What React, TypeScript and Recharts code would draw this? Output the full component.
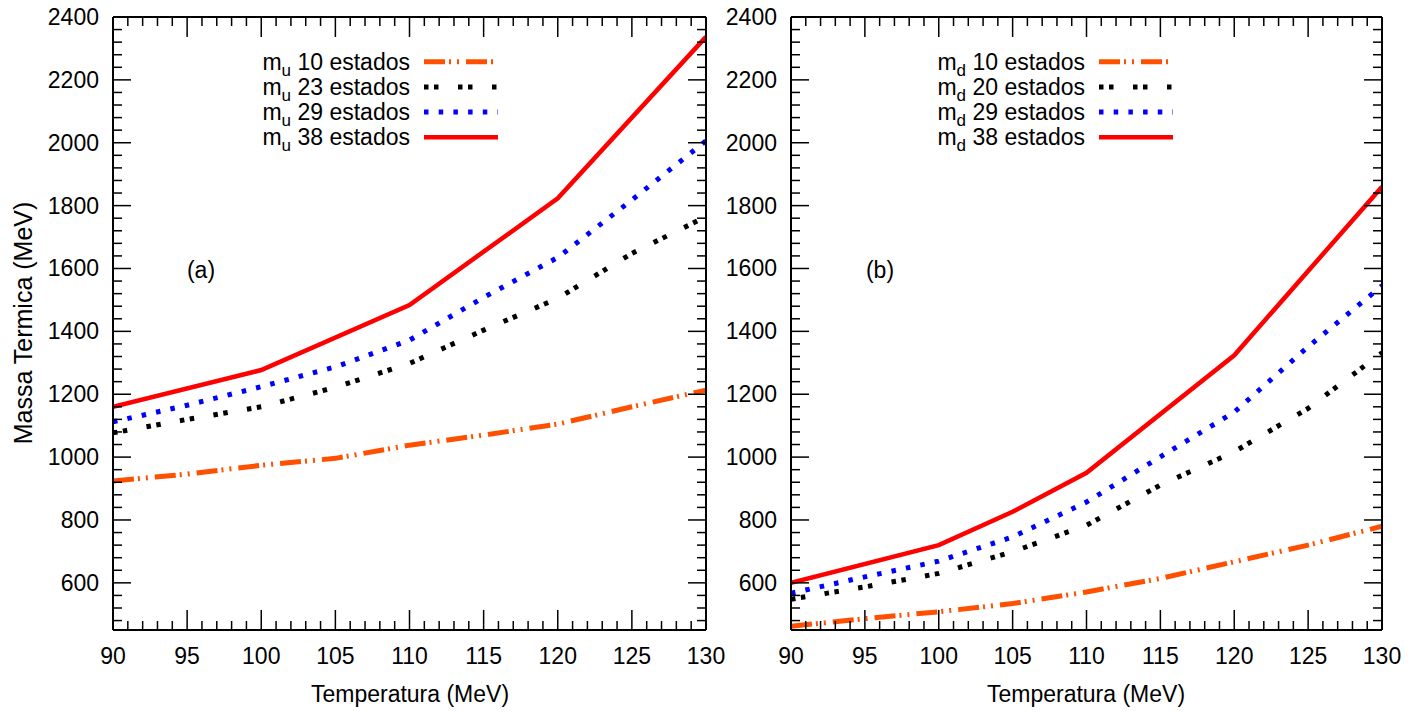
import React from 'react';
import { LineChart, Line, XAxis, YAxis, Legend } from 'recharts';

// eixo x (temperatura, MeV)
const temps = [90, 95, 100, 105, 110, 115, 120, 125, 130];
// ticks: todos os ticks (menores + maiores); os maiores recebem rótulo
const tempTicks = Array.from({ length: 41 }, (_, i) => 90 + i);
const massTicks = Array.from({ length: 49 }, (_, i) => 480 + i * 40);

// painel (a) - m_u
const mu10 = [924, 946, 974, 996, 1038, 1070, 1105, 1160, 1213];
const mu23 = [1077, 1120, 1160, 1222, 1298, 1404, 1505, 1648, 1765];
const mu29 = [1112, 1165, 1224, 1287, 1372, 1508, 1635, 1818, 2006];
const mu38Temps = [90, 100, 110, 120, 130];
const mu38 = [1160, 1277, 1484, 1823, 2337];

// painel (b) - m_d
const md10 = [462, 486, 508, 534, 571, 614, 667, 720, 780];
const md20 = [548, 587, 630, 699, 783, 911, 1017, 1155, 1332];
const md29 = [567, 619, 669, 746, 857, 1001, 1143, 1351, 1545];
const md38Temps = [90, 100, 105, 110, 120, 130];
const md38 = [600, 720, 826, 950, 1324, 1860];

const FONT = '"Liberation Sans", Arial, sans-serif';

const STYLE_10 = { stroke: '#ff5000', width: 5, dash: '21 4 2 6 2 7' };
const STYLE_2X = { stroke: '#000000', width: 5, dash: '4.5 5.5 4.5 19.5' };
const STYLE_29 = { stroke: '#0000ff', width: 5, dash: '4.5 10.2' };
const STYLE_38 = { stroke: '#ff0000', width: 4.5, dash: undefined };

type Style = { stroke: string; width: number; dash?: string };
type Series = { key: string; label: string; points: { t: number; m: number }[]; style: Style };

const toPoints = (xs: number[], ys: number[]) => xs.map((t, i) => ({ t, m: ys[i] }));

const seriesA: Series[] = [
  { key: 'mu10', label: '10 estados', points: toPoints(temps, mu10), style: STYLE_10 },
  { key: 'mu23', label: '23 estados', points: toPoints(temps, mu23), style: STYLE_2X },
  { key: 'mu29', label: '29 estados', points: toPoints(temps, mu29), style: STYLE_29 },
  { key: 'mu38', label: '38 estados', points: toPoints(mu38Temps, mu38), style: STYLE_38 },
];

const seriesB: Series[] = [
  { key: 'md10', label: '10 estados', points: toPoints(temps, md10), style: STYLE_10 },
  { key: 'md20', label: '20 estados', points: toPoints(temps, md20), style: STYLE_2X },
  { key: 'md29', label: '29 estados', points: toPoints(temps, md29), style: STYLE_29 },
  { key: 'md38', label: '38 estados', points: toPoints(md38Temps, md38), style: STYLE_38 },
];

const LegendBox = ({ series, sub }: { series: Series[]; sub: string }) => (
  <svg width={280} height={104} style={{ fontFamily: FONT, overflow: 'visible' }}>
    {series.map((s, i) => {
      const cy = 12.7 + i * 25.2;
      return (
        <g key={s.key}>
          <text x={180} y={cy + 8} textAnchor="end" fontSize={23} fill="#000">
            <tspan>m</tspan>
            <tspan fontSize={17} dy={6}>{sub}</tspan>
            <tspan dy={-6}>{' ' + s.label}</tspan>
          </text>
          <line
            x1={194}
            x2={268}
            y1={cy}
            y2={cy}
            stroke={s.style.stroke}
            strokeWidth={s.style.width}
            strokeDasharray={s.style.dash}
          />
        </g>
      );
    })}
  </svg>
);

// ticks para dentro, estilo gnuplot
const isMajorT = (v: number) => v % 5 === 0;
const isMajorM = (v: number) => v % 200 === 0 && v >= 600;

const BottomTick = (p: any) => {
  const v = p.payload.value;
  const major = isMajorT(v);
  return (
    <g>
      <line x1={p.x} x2={p.x} y1={p.y} y2={p.y - (major ? 20 : 9)} stroke="#000" strokeWidth={1.5} />
      {major && (
        <text x={p.x} y={p.y + 34} textAnchor="middle" fontSize={23} fill="#000">
          {v}
        </text>
      )}
    </g>
  );
};

const TopTick = (p: any) => {
  const major = isMajorT(p.payload.value);
  return <line x1={p.x} x2={p.x} y1={p.y} y2={p.y + (major ? 20 : 9)} stroke="#000" strokeWidth={1.5} />;
};

const LeftTick = (p: any) => {
  const v = p.payload.value;
  const major = isMajorM(v);
  return (
    <g>
      <line x1={p.x} x2={p.x + (major ? 18 : 9)} y1={p.y} y2={p.y} stroke="#000" strokeWidth={1.5} />
      {major && (
        <text x={p.x - 14} y={p.y + 8} textAnchor="end" fontSize={23} fill="#000">
          {v}
        </text>
      )}
    </g>
  );
};

const RightTick = (p: any) => {
  const major = isMajorM(p.payload.value);
  return <line x1={p.x} x2={p.x - (major ? 18 : 9)} y1={p.y} y2={p.y} stroke="#000" strokeWidth={1.5} />;
};

const axisLine = { stroke: '#000', strokeWidth: 2 };

const Panel = ({
  series,
  sub,
  width,
  left,
  right,
  legendLeft,
}: {
  series: Series[];
  sub: string;
  width: number;
  left: number;
  right: number;
  legendLeft: number;
}) => (
  <LineChart
    width={width}
    height={713}
    margin={{ top: 16, right, bottom: 82, left }}
    style={{ fontFamily: FONT, overflow: 'visible' }}
  >
    <XAxis
      xAxisId="x"
      dataKey="t"
      type="number"
      domain={[90, 130]}
      allowDataOverflow
      ticks={tempTicks}
      interval={0}
      height={1}
      tickSize={0}
      tickMargin={0}
      axisLine={axisLine}
      tickLine={false}
      tick={BottomTick}
    />
    <XAxis
      xAxisId="xTop"
      orientation="top"
      dataKey="t"
      type="number"
      domain={[90, 130]}
      allowDataOverflow
      ticks={tempTicks}
      interval={0}
      height={1}
      tickSize={0}
      tickMargin={0}
      axisLine={axisLine}
      tickLine={false}
      tick={TopTick}
    />
    <YAxis
      yAxisId="y"
      type="number"
      domain={[450, 2400]}
      allowDataOverflow
      ticks={massTicks}
      interval={0}
      width={1}
      tickSize={0}
      tickMargin={0}
      axisLine={axisLine}
      tickLine={false}
      tick={LeftTick}
    />
    <YAxis
      yAxisId="yRight"
      orientation="right"
      type="number"
      domain={[450, 2400]}
      allowDataOverflow
      ticks={massTicks}
      interval={0}
      width={1}
      tickSize={0}
      tickMargin={0}
      axisLine={axisLine}
      tickLine={false}
      tick={RightTick}
    />
    {series.map((s) => (
      <Line
        key={s.key}
        xAxisId="x"
        yAxisId="y"
        data={s.points}
        dataKey="m"
        type="linear"
        stroke={s.style.stroke}
        strokeWidth={s.style.width}
        strokeDasharray={s.style.dash}
        dot={false}
        activeDot={false}
        isAnimationActive={false}
      />
    ))}
    <Legend
      layout="vertical"
      align="center"
      verticalAlign="middle"
      wrapperStyle={{ left: legendLeft, top: 49, width: 280, height: 104 }}
      content={() => <LegendBox series={series} sub={sub} />}
    />
  </LineChart>
);

const textStyle: React.CSSProperties = {
  position: 'absolute',
  fontFamily: FONT,
  fontSize: 23,
  color: '#000',
  textAlign: 'center',
  lineHeight: '28px',
  height: 28,
  whiteSpace: 'nowrap',
};

export default function App() {
  return (
    <div style={{ position: 'absolute', left: 0, top: 0, width: 1423, height: 713, background: '#fff' }}>
      <style>{'.recharts-surface { overflow: visible; } .recharts-wrapper { overflow: visible; }'}</style>
      <div style={{ position: 'absolute', left: 0, top: 0 }}>
        <Panel series={seriesA} sub="u" width={720} left={112} right={13} legendLeft={230} />
      </div>
      <div style={{ position: 'absolute', left: 720, top: 0 }}>
        <Panel series={seriesB} sub="d" width={703} left={70} right={40} legendLeft={185} />
      </div>
      <div style={{ ...textStyle, left: 210, top: 680, width: 400 }}>Temperatura (MeV)</div>
      <div style={{ ...textStyle, left: 886, top: 680, width: 400 }}>Temperatura (MeV)</div>
      <div
        style={{ ...textStyle, fontSize: 25, left: -127, top: 309, width: 300, transform: 'rotate(-90deg)' }}
      >
        Massa Termica (MeV)
      </div>
      <div style={{ ...textStyle, left: 171, top: 256, width: 60 }}>(a)</div>
      <div style={{ ...textStyle, left: 850, top: 256, width: 60 }}>(b)</div>
    </div>
  );
}
